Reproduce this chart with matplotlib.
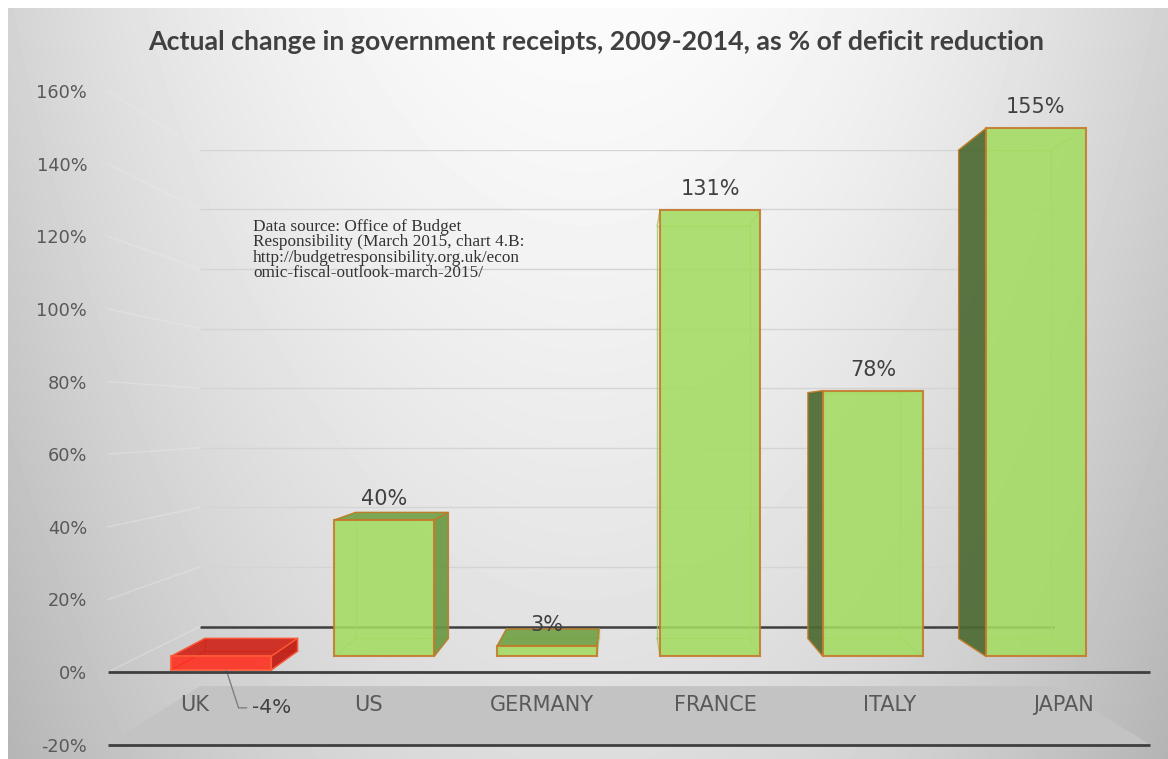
import numpy as np
import matplotlib.pyplot as plt
from matplotlib.patches import Polygon

# data
countries = ['UK', 'US', 'GERMANY', 'FRANCE', 'ITALY', 'JAPAN']
change_pct = [-4, 40, 3, 131, 78, 155]
y_ticks = [-20, 0, 20, 40, 60, 80, 100, 120, 140, 160]

title = 'Actual change in government receipts, 2009-2014, as % of deficit reduction'
source_note = ('Data source: Office of Budget\n'
               'Responsibility (March 2015, chart 4.B:\n'
               'http://budgetresponsibility.org.uk/econ\n'
               'omic-fiscal-outlook-march-2015/')

W, H = 1168, 759
fig = plt.figure(figsize=(W / 100, H / 100), dpi=100)

# fake 3D: every depth plane is an axes with the same limits, shrunk towards a vanishing point
VP = (622, 418)
FRONT = (108, 1150, 91.2, 744.6)   # left, right, top, bottom of the front plane (px)
XLIM = (-0.5, len(countries) - 0.5)
YLIM = (-20, 160)


def plane(k, z):
    l = VP[0] + k * (FRONT[0] - VP[0])
    r = VP[0] + k * (FRONT[1] - VP[0])
    t = VP[1] + k * (FRONT[2] - VP[1])
    b = VP[1] + k * (FRONT[3] - VP[1])
    ax = fig.add_axes([l / W, 1 - b / H, (r - l) / W, (b - t) / H], zorder=z)
    ax.set_xlim(XLIM)
    ax.set_ylim(YLIM)
    ax.patch.set_visible(False)
    for s in ax.spines.values():
        s.set_visible(False)
    ax.set_xticks([])
    ax.set_yticks([])
    return ax


# background gradient
ax_bg = fig.add_axes([0, 0, 1, 1], zorder=0)
U, V = np.meshgrid(np.linspace(0, 1, W), np.linspace(0, 1, H))
shade = 0.985 - 0.16 * ((U - 0.5) / 0.5) ** 2 - 0.12 * V ** 1.2
shade[:8, :] = 1
shade[:, :8] = 1
ax_bg.imshow(shade, cmap='gray', vmin=0, vmax=1, aspect='auto', extent=(0, 1, 0, 1))
ax_bg.axis('off')

ax_wall = plane(0.821, 1)
ax_back = plane(0.868, 1)
ax_c = fig.add_axes([0, 0, 1, 1], zorder=2)
ax_c.set_xlim(0, 1)
ax_c.set_ylim(0, 1)
ax_c.axis('off')
ax_bars = plane(0.938, 3)
ax_front = plane(1.0, 4)

to_fig = fig.transFigure.inverted()


def pt(ax, x, y):
    return to_fig.transform(ax.transData.transform((x, y)))


# back wall gridlines
ax_wall.hlines([t for t in y_ticks if t > 0], *XLIM, color='#d4d4d4', lw=1)
ax_wall.hlines(0, *XLIM, color='#3f3f3f', lw=1.8)

# floor and side wall lines
floor = [pt(ax_front, XLIM[0], YLIM[0]), pt(ax_front, XLIM[1], YLIM[0]),
         pt(ax_wall, XLIM[1], YLIM[0]), pt(ax_wall, XLIM[0], YLIM[0])]
ax_c.add_patch(Polygon(floor, closed=True, facecolor='#c3c3c3', edgecolor='none', zorder=1))
for t in y_ticks[1:]:
    a = pt(ax_front, XLIM[0], t)
    b = pt(ax_wall, XLIM[0], t)
    ax_c.plot([a[0], b[0]], [a[1], b[1]], color='#ececec', lw=1, alpha=0.4, zorder=1)

# bars
bar_w = 0.614
min_side = 4.5 / W   # thinner side faces are hidden behind the front edge
for i, v in enumerate(change_pct):
    neg = v < 0
    edge = '#ff5a3a' if neg else '#c5782a'
    inner = '#e23a25' if neg else '#9cc760'
    top_c, left_c, right_c = (('#cf2417', '#b51810', '#c01a10') if neg
                              else ('#72a248', '#4d6a33', '#6a9942'))
    x0, x1 = i - bar_w / 2, i + bar_w / 2
    y0, y1 = min(0, v), max(0, v)
    F = {(a, b): pt(ax_bars, a, b) for a in (x0, x1) for b in (y0, y1)}
    B = {(a, b): pt(ax_back, a, b) for a in (x0, x1) for b in (y0, y1)}

    # hidden edges seen through the translucent front
    order = [(x0, y0), (x1, y0), (x1, y1), (x0, y1), (x0, y0)]
    ax_c.plot([B[c][0] for c in order], [B[c][1] for c in order], color=inner, lw=1, alpha=0.8, zorder=2)
    for c in order[:4]:
        ax_c.plot([F[c][0], B[c][0]], [F[c][1], B[c][1]], color=inner, lw=1, alpha=0.8, zorder=2)

    faces = []
    if B[(x0, y1)][1] > F[(x0, y1)][1]:
        faces.append(([F[(x0, y1)], F[(x1, y1)], B[(x1, y1)], B[(x0, y1)]], top_c))
    if F[(x0, y0)][0] - B[(x0, y0)][0] > min_side:
        faces.append(([F[(x0, y0)], F[(x0, y1)], B[(x0, y1)], B[(x0, y0)]], left_c))
    if B[(x1, y0)][0] - F[(x1, y0)][0] > min_side:
        faces.append(([F[(x1, y0)], F[(x1, y1)], B[(x1, y1)], B[(x1, y0)]], right_c))
    for poly, col in faces:
        ax_c.add_patch(Polygon(poly, closed=True, facecolor=col, edgecolor=edge,
                               lw=1, alpha=0.92, zorder=3))

front_cols = ['#ff2b1b' if v < 0 else '#a4dc62' for v in change_pct]
edge_cols = ['#ff5a3a' if v < 0 else '#c5782a' for v in change_pct]
ax_bars.bar(range(len(countries)), change_pct, width=bar_w, color=front_cols,
            edgecolor=edge_cols, lw=1.5, alpha=0.88)

# value labels
for i, v in enumerate(change_pct):
    if v < 0:
        ax_bars.annotate(f'{v}%', xy=(i + 0.03, v), xytext=(26, -38), textcoords='offset pixels',
                         ha='left', va='center', fontsize=14.5, color='#404040',
                         arrowprops=dict(arrowstyle='-', color='#7f7f7f', lw=1, relpos=(0, 0.5),
                                         shrinkA=2, shrinkB=0,
                                         connectionstyle='angle,angleA=0,angleB=-72,rad=0'))
    else:
        ax_bars.annotate(f'{v}%', xy=(i, v), xytext=(0, 21), textcoords='offset pixels',
                         ha='center', va='center', fontsize=15, color='#404040')

# front plane: axis labels and lines
ax_front.hlines([0, -20], *XLIM, color='#3f3f3f', lw=2, clip_on=False)
ax_front.set_yticks(y_ticks)
ax_front.set_yticklabels([f'{t}%' for t in y_ticks])
ax_front.tick_params(axis='y', length=0, pad=15, labelsize=12.8, labelcolor='#595959')
for i, name in enumerate(countries):
    ax_front.text(i, -9.1, name, ha='center', va='center', fontsize=15, color='#595959')

fig.text(253 / W, 1 - 219 / H, source_note, ha='left', va='top', family='Liberation Serif',
         fontsize=12.4, color='#333333', linespacing=0.95)

t = fig.text(596 / W, 1 - 42 / H, title, ha='center', va='center', fontsize=19,
             weight='bold', family=['Lato', 'DejaVu Sans'], color='#404040')
tw = t.get_window_extent(fig.canvas.get_renderer()).width
t.set_fontsize(19 * 897 / tw)

fig.savefig('out.png', dpi=100)
